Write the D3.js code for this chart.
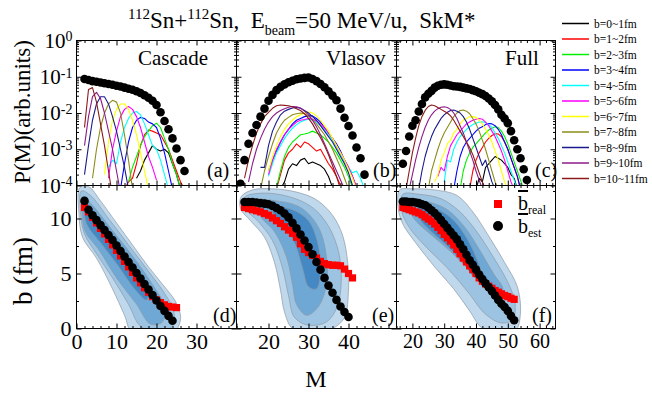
<!DOCTYPE html>
<html><head><meta charset="utf-8">
<script src="https://cdn.jsdelivr.net/npm/d3@7"></script>
<style>
body{margin:0;background:#fff}
svg{display:block}
svg text{font-family:"Liberation Serif","Times New Roman",serif !important;fill:#000}
</style>
</head><body>
<svg id="chart" width="652" height="396"></svg>
<script>
// ---------------- DATA ----------------
const binLabels = ["b=0~1fm","b=1~2fm","b=2~3fm","b=3~4fm","b=4~5fm","b=5~6fm","b=6~7fm","b=7~8fm","b=8~9fm","b=9~10fm","b=10~11fm"];
const modelNames = ["Cascade","Vlasov","Full"];
const topPanelTags = ["(a)","(b)","(c)"];
const botPanelTags = ["(d)","(e)","(f)"];
const xDomainCascade = [0,40];
const xDomainVlasov = [12,52];
const xDomainFull = [15,65];
const xTicksCascade = [0,10,20,30];
const xTicksVlasov = [20,30,40];
const xTicksFull = [20,30,40,50,60];
const pTickExponents = [0,-1,-2,-3,-4];
const bTicks = [0,5,10];

// P(M) curves: log10 P at consecutive integer M starting at startM (index = impact-parameter bin)
const cascadeStartM = [15,12,13,11,8,8,7,4,2,2,2];
const cascadeLogP = [
 [-3.8,-3.6,-3.3,-3.1,-2.9,-3.0,-3.05,-3.0,-3.1,-3.4,-3.7,-4.1],
 [-4.1,-3.9,-3.8,-3.4,-2.9,-2.6,-2.47,-2.5,-2.55,-2.6,-2.8,-3.0,-3.3,-3.6,-3.9,-4.1],
 [-3.9,-3.5,-3.2,-2.9,-2.65,-2.5,-2.35,-2.28,-2.4,-2.7,-3.0,-3.4,-3.7,-4.1],
 [-4.1,-3.4,-2.8,-2.4,-2.2,-2.12,-2.15,-2.25,-2.3,-2.4,-2.7,-3.1,-3.6,-4.1],
 [-3.5,-3.3,-3.4,-2.8,-2.4,-2.15,-2.0,-1.96,-2.05,-2.3,-2.6,-2.9,-3.0,-3.3,-3.7,-4.1],
 [-3.8,-3.0,-2.5,-2.1,-1.9,-1.82,-1.9,-2.1,-2.4,-2.8,-3.2,-3.5,-3.85],
 [-3.7,-2.8,-2.2,-1.9,-1.75,-1.75,-1.9,-2.2,-2.6,-3.1,-3.6,-4.1],
 [-3.8,-3.0,-2.4,-2.0,-1.75,-1.65,-1.7,-2.0,-2.6,-3.3,-4.1],
 [-3.7,-2.9,-2.2,-1.75,-1.55,-1.55,-1.75,-2.1,-2.5,-3.0,-3.5,-4.1],
 [-2.9,-2.1,-1.55,-1.43,-1.6,-2.0,-2.5,-3.0,-3.6,-4.2],
 [-2.4,-1.35,-1.3,-1.7,-2.3,-2.9,-3.6,-4.3]
];
const vlasovStartM = [23,22,22,20,20,20,20,18,18,15,14];
const vlasovLogP = [
 [-4.1,-3.9,-3.55,-3.4,-3.45,-3.3,-3.25,-3.4,-3.35,-3.4,-3.45,-3.55,-3.75,-4.05],
 [-4.1,-3.7,-3.3,-3.1,-3.0,-2.85,-2.95,-2.8,-2.85,-2.95,-3.05,-3.0,-3.2,-3.4,-3.55,-3.75,-4.0],
 [-4.05,-3.6,-3.2,-2.95,-2.8,-2.7,-2.6,-2.58,-2.55,-2.5,-2.55,-2.6,-2.7,-2.8,-2.95,-3.1,-3.3,-3.5,-3.75,-4.05],
 [-3.6,-3.3,-3.05,-2.8,-2.6,-2.45,-2.3,-2.2,-2.15,-2.1,-2.08,-2.08,-2.15,-2.25,-2.4,-2.55,-2.7,-2.85,-3.05,-3.3,-3.5,-3.75,-4.05],
 [-3.75,-3.4,-3.1,-2.9,-2.7,-2.55,-2.42,-2.32,-2.25,-2.2,-2.17,-2.2,-2.25,-2.35,-2.45,-2.6,-2.75,-2.95,-3.15,-3.35,-3.5,-3.65,-3.6,-3.8,-4.1],
 [-3.7,-3.3,-3.0,-2.8,-2.6,-2.45,-2.35,-2.25,-2.2,-2.18,-2.15,-2.17,-2.22,-2.3,-2.42,-2.55,-2.7,-2.9,-3.1,-3.3,-3.5,-3.75,-4.05],
 [-3.6,-3.2,-2.9,-2.65,-2.45,-2.3,-2.2,-2.1,-2.05,-2.0,-1.97,-2.0,-2.08,-2.2,-2.35,-2.5,-2.7,-2.9,-3.1,-3.3,-3.55,-3.8,-4.1],
 [-4.1,-3.6,-3.2,-2.85,-2.55,-2.35,-2.2,-2.12,-2.05,-2.02,-2.0,-2.02,-2.08,-2.18,-2.3,-2.45,-2.6,-2.8,-3.0,-3.25,-3.5,-3.8,-4.1],
 [-3.5,-3.5,-2.9,-2.5,-2.25,-2.05,-1.95,-1.9,-1.86,-1.85,-1.87,-1.93,-2.0,-2.1,-2.2,-2.35,-2.5,-2.65,-2.8,-3.0,-3.2,-3.4,-3.65,-4.0],
 [-3.9,-3.4,-3.0,-2.7,-2.45,-2.25,-2.1,-2.0,-1.93,-1.88,-1.84,-1.82,-1.83,-1.86,-1.95,-2.05,-2.2,-2.38,-2.6,-2.85,-3.1,-3.35,-3.6,-3.85,-4.1],
 [-3.8,-3.3,-2.9,-2.55,-2.3,-2.1,-1.98,-1.87,-1.8,-1.78,-1.79,-1.8,-1.83,-1.88,-1.93,-2.02,-2.15,-2.3,-2.5,-2.68,-2.9,-3.15,-3.45,-3.75,-4.1]
];
const fullStartM = [40,38,35,33,30,28,27,25,22,19,18];
const fullLogP = [
 [-4.1,-3.8,-3.9,-3.5,-3.4,-3.3,-3.2,-3.25,-3.3,-3.4,-3.5,-3.7,-3.8,-4.1],
 [-4.1,-3.6,-3.3,-3.1,-2.95,-2.8,-2.7,-2.62,-2.57,-2.58,-2.65,-2.8,-3.0,-3.25,-3.5,-3.75,-4.1],
 [-4.1,-3.6,-3.3,-3.1,-2.95,-2.85,-2.75,-2.65,-2.55,-2.47,-2.42,-2.38,-2.4,-2.5,-2.65,-2.85,-3.1,-3.35,-3.6,-3.85,-4.1],
 [-4.1,-3.6,-3.2,-2.95,-2.8,-2.7,-2.6,-2.5,-2.42,-2.38,-2.32,-2.29,-2.3,-2.35,-2.45,-2.6,-2.8,-3.0,-3.25,-3.5,-3.75,-4.1],
 [-3.9,-3.3,-3.35,-3.0,-2.8,-2.65,-2.55,-2.45,-2.38,-2.32,-2.28,-2.25,-2.24,-2.27,-2.32,-2.4,-2.55,-2.7,-2.9,-3.1,-3.35,-3.6,-3.85,-4.1],
 [-3.75,-3.5,-3.6,-3.2,-2.9,-2.75,-2.6,-2.5,-2.4,-2.3,-2.25,-2.2,-2.17,-2.15,-2.17,-2.25,-2.35,-2.5,-2.65,-2.85,-3.05,-3.3,-3.6,-3.9,-4.1],
 [-3.9,-3.7,-3.3,-3.1,-2.85,-2.75,-2.55,-2.45,-2.3,-2.2,-2.15,-2.1,-2.1,-2.12,-2.2,-2.3,-2.45,-2.6,-2.8,-3.05,-3.3,-3.6,-3.9,-4.1],
 [-4.1,-3.6,-3.3,-3.0,-2.75,-2.55,-2.4,-2.25,-2.1,-2.0,-1.93,-1.92,-1.95,-2.02,-2.15,-2.3,-2.5,-2.75,-3.0,-3.3,-3.6,-3.9,-4.1],
 [-4.1,-3.6,-3.2,-2.9,-2.65,-2.45,-2.3,-2.15,-2.05,-1.98,-1.93,-1.92,-1.95,-2.0,-2.1,-2.25,-2.45,-2.7,-2.95,-3.2,-3.45,-3.3,-3.6,-3.9,-4.1],
 [-4.1,-3.7,-3.3,-2.95,-2.65,-2.4,-2.2,-2.05,-1.95,-1.88,-1.84,-1.83,-1.85,-1.9,-2.0,-2.15,-2.35,-2.55,-2.8,-3.05,-3.3,-3.6,-3.85,-4.1],
 [-4.1,-3.6,-3.1,-2.7,-2.35,-2.1,-1.93,-1.82,-1.78,-1.8,-1.85,-1.9,-1.95,-2.0,-2.08,-2.2,-2.35,-2.5,-2.65,-2.8,-2.95,-3.15,-3.4,-3.65,-3.9,-4.1]
];
// total P(M) (black dots), log10 P at consecutive integer M
const cascadeTotalStartM = 2;
const cascadeTotalLogP = [-1.06,-1.09,-1.12,-1.14,-1.16,-1.18,-1.2,-1.22,-1.25,-1.27,-1.3,-1.33,-1.36,-1.4,-1.45,-1.51,-1.58,-1.66,-1.78,-1.98,-2.22,-2.45,-2.7,-2.98,-3.3,-3.6];
const vlasovTotalStartM = 13;
const vlasovTotalLogP = [-3.95,-3.3,-2.85,-2.55,-2.33,-2.1,-1.88,-1.66,-1.5,-1.37,-1.28,-1.21,-1.15,-1.11,-1.07,-1.05,-1.03,-1.02,-1.06,-1.12,-1.2,-1.29,-1.4,-1.52,-1.65,-1.88,-2.13,-2.36,-2.62,-2.95,-3.25,-3.7];
const fullTotalStartM = 17;
const fullTotalLogP = [-3.4,-3.05,-2.65,-2.35,-2.2,-1.96,-1.75,-1.57,-1.47,-1.39,-1.3,-1.25,-1.22,-1.21,-1.22,-1.24,-1.26,-1.27,-1.28,-1.3,-1.32,-1.34,-1.37,-1.4,-1.44,-1.48,-1.53,-1.6,-1.68,-1.78,-1.9,-2.05,-2.15,-2.28,-2.5,-2.75,-3.0,-3.25,-3.55,-3.85];

// b_est (black) and b_real (red) vs M
const cascadeEstStartM = 2;
const cascadeBEst = [11.6,10.8,10.3,9.85,9.4,8.95,8.5,8.05,7.55,7.05,6.55,6.05,5.55,5.05,4.55,4.05,3.55,3.05,2.55,2.05,1.6,1.15,0.7];
const cascadeRealStartM = 2;
const cascadeBReal = [11.0,10.6,10.1,9.6,9.1,8.6,8.1,7.6,7.1,6.6,6.1,5.6,5.1,4.6,4.15,3.7,3.3,2.9,2.6,2.35,2.15,2.0,1.95,1.9];
const vlasovEstStartM = 14;
const vlasovBEst = [11.5,11.5,11.5,11.45,11.4,11.35,11.3,11.15,10.95,10.75,10.45,10.1,9.6,9.1,8.55,8.0,7.4,6.75,6.05,5.35,4.6,3.9,3.25,2.6,2.0,1.5,1.05];
const vlasovRealStartM = 14;
const vlasovBReal = [11.0,10.9,10.8,10.7,10.6,10.45,10.3,10.05,9.8,9.55,9.25,8.95,8.65,8.3,7.7,7.2,6.9,6.65,6.4,6.1,5.9,5.8,5.75,5.75,5.7,5.4,5.0,4.6];
const fullEstStartM = 17;
const fullBEst = [11.55,11.55,11.5,11.5,11.45,11.4,11.3,11.2,11.0,10.75,10.5,10.2,9.85,9.5,9.15,8.8,8.45,8.1,7.65,7.2,6.7,6.2,5.8,5.35,4.9,4.5,4.1,3.75,3.4,3.0,2.6,2.25,1.95,1.6,1.15,0.75];
const fullRealStartM = 17;
const fullBReal = [11.0,10.9,10.8,10.7,10.6,10.5,10.35,10.15,9.95,9.75,9.5,9.2,8.9,8.55,8.25,7.95,7.6,7.2,6.8,6.4,6.05,5.7,5.35,5.0,4.6,4.3,4.05,3.85,3.65,3.45,3.3,3.15,3.0,2.9,2.75,2.65];

// density contour outlines in (M, b), outer to inner
const cascadeContours = [
 [[0.8,12.8],[3,12.9],[6,11.6],[10,9.6],[14,7.6],[18,5.6],[22,3.8],[25,2.3],[26,0.8],[24,-0.5],[19,-0.6],[14,-0.5],[12,1.2],[9,3.6],[5,6.4],[1.5,8.3],[0.6,10.5]],
 [[1.2,12.5],[3.5,12.1],[8,10],[13,7.6],[18,5.2],[22,3.2],[24.3,1.6],[24,0.2],[20,-0.3],[16,0.2],[13,2.2],[9,4.6],[5,6.8],[2,8.6],[1,10.5]],
 [[1.6,12.0],[4,11.2],[9,8.9],[14,6.6],[19,4.0],[22,2.0],[21.5,0.6],[18.5,0.4],[15,2.2],[10,4.6],[5.5,7.2],[2.2,8.8],[1.4,10.4]],
 [[2.2,11.3],[5,10.2],[10,8.0],[15,5.6],[18,3.5],[17.5,2.6],[14.5,3.6],[10,5.9],[6,7.8],[2.8,9.3],[2,10.3]]
];
const vlasovContours = [
 [[13.2,12.0],[16,12.6],[21,12.7],[27,12.4],[32,11.7],[36,10.3],[38.5,8.5],[39.8,6],[40,3.5],[39,1.0],[36,0],[31,-0.3],[26,0],[24,1.5],[23,3.5],[21.5,6],[19,8.3],[15.5,9.8],[13,10.9]],
 [[14,11.9],[18,12.3],[25,12.0],[31,11.0],[35,9.3],[37.5,7],[38.2,4.5],[37.2,2],[34.5,0.6],[30,0.3],[26.5,1.0],[25,3.0],[23.5,5.5],[21,8],[17.5,9.7],[14.5,10.8]],
 [[17,11.6],[22,11.6],[28,11.0],[32.5,9.2],[34.5,6.5],[34.5,4.0],[32.5,2.0],[29.5,1.2],[27,2.2],[26,4],[24.5,6.5],[21.5,8.8],[18,10.2]],
 [[21.5,11.0],[26,10.8],[30,9.8],[32.3,7.8],[33,5.2],[32,3.6],[30,3.8],[28.5,5.5],[26.5,7.8],[23.5,9.5],[21.2,10.3]]
];
const fullContours = [
 [[16,12.6],[20,12.7],[27,12.6],[34,12.1],[39,10.6],[44,8.4],[49,6.0],[53,3.8],[54,1.5],[52.5,-0.2],[48,-0.5],[42,0],[38,1.6],[33,3.6],[27,5.6],[21,7.8],[17,9.5],[15.5,11]],
 [[17,12.2],[22,12.2],[29,11.8],[35,10.6],[40,8.9],[45,6.7],[50,4.2],[52.3,2.3],[51.5,0.8],[48,0.5],[43,1.3],[37.5,3.3],[31,5.5],[24,7.5],[19,9.2],[16.5,10.8]],
 [[19.5,11.6],[25,11.5],[31,10.8],[36.5,9.2],[41,7.2],[45.5,5.0],[48.5,3.6],[47.5,3.0],[43,3.9],[38,5.3],[32,7.0],[26,8.5],[21,9.8],[19,10.8]],
 [[22,11.0],[27,10.9],[32,10.1],[36.5,8.5],[40,6.5],[41.5,5.0],[40,4.6],[36,5.9],[31,7.5],[26,8.8],[22.5,9.9]]
];

// ---------------- STYLE / LAYOUT ----------------
const SERIF = '"Liberation Serif","Times New Roman",serif';
const binColors = ["#000000","#ff0000","#00ee00","#0000ff","#00ffff","#ff00ff","#ffff00","#8c8c1a","#1a1a8c","#8c1a8c","#8c1a1a"];
const contourFills = ["#bfd8ec","#9cc4e2","#6fa8d4","#4489c4"];
const panelLeft = [76.5,236.5,396.5];
const panelRight = [236.5,396.5,555.5];
const topRowY = [40.5,185.5];
const botRowY = [185.5,328.5];

const svg = d3.select("#chart");
svg.append("rect").attr("width",652).attr("height",396).attr("fill","#fff");

const models = [
 {xd:xDomainCascade, ticks:xTicksCascade, startM:cascadeStartM, logP:cascadeLogP, totS:cascadeTotalStartM, tot:cascadeTotalLogP,
  estS:cascadeEstStartM, est:cascadeBEst, realS:cascadeRealStartM, real:cascadeBReal, cont:cascadeContours, fs:22},
 {xd:xDomainVlasov, ticks:xTicksVlasov, startM:vlasovStartM, logP:vlasovLogP, totS:vlasovTotalStartM, tot:vlasovTotalLogP,
  estS:vlasovEstStartM, est:vlasovBEst, realS:vlasovRealStartM, real:vlasovBReal, cont:vlasovContours, fs:22},
 {xd:xDomainFull, ticks:xTicksFull, startM:fullStartM, logP:fullLogP, totS:fullTotalStartM, tot:fullTotalLogP,
  estS:fullEstStartM, est:fullBEst, realS:fullRealStartM, real:fullBReal, cont:fullContours, fs:20}
];

const yP = d3.scaleLog().domain([1e-4,1]).range([topRowY[1],topRowY[0]]);
const yB = d3.scaleLinear().domain([0,13]).range([botRowY[1],botRowY[0]]);
const defs = svg.append("defs");

function edgeTicks(g, scale, values, orient, pos, len){
  const axis = (orient==="bottom"?d3.axisBottom:orient==="top"?d3.axisTop:orient==="left"?d3.axisLeft:d3.axisRight)(scale)
    .tickValues(values).tickSize(-len).tickFormat("");
  const tr = (orient==="bottom"||orient==="top")?`translate(0,${pos})`:`translate(${pos},0)`;
  const a = g.append("g").attr("transform",tr).call(axis);
  a.select(".domain").remove();
  a.selectAll("line").attr("stroke","#000").attr("stroke-width",1);
}

models.forEach((m,i)=>{
  const x = d3.scaleLinear().domain(m.xd).range([panelLeft[i],panelRight[i]]);
  const g = svg.append("g");
  defs.append("clipPath").attr("id","ct"+i).append("rect")
    .attr("x",panelLeft[i]).attr("y",topRowY[0]).attr("width",panelRight[i]-panelLeft[i]).attr("height",topRowY[1]-topRowY[0]);
  defs.append("clipPath").attr("id","cb"+i).append("rect")
    .attr("x",panelLeft[i]).attr("y",botRowY[0]).attr("width",panelRight[i]-panelLeft[i]).attr("height",botRowY[1]-botRowY[0]);

  // ---- top: P(M) curves
  const gt = g.append("g").attr("clip-path",`url(#ct${i})`);
  const line = d3.line().x(d=>x(d[0])).y(d=>yP(Math.pow(10,d[1])));
  m.logP.forEach((vals,b)=>{
    const pts = vals.map((v,k)=>[m.startM[b]+k, v]);
    gt.append("path").attr("d",line(pts)).attr("fill","none")
      .attr("stroke",binColors[b]).attr("stroke-width",1.1).attr("stroke-linejoin","round");
  });
  gt.selectAll("circle.tot").data(m.tot.map((v,k)=>[m.totS+k,v])).enter().append("circle")
    .attr("cx",d=>x(d[0])).attr("cy",d=>yP(Math.pow(10,d[1]))).attr("r",4.3).attr("fill","#000");

  // ---- bottom: contours + b estimates
  const gb = g.append("g").attr("clip-path",`url(#cb${i})`);
  const cl = d3.line().x(d=>x(d[0])).y(d=>yB(d[1])).curve(d3.curveCatmullRomClosed.alpha(0.5));
  m.cont.forEach((poly,k)=>{
    gb.append("path").attr("d",cl(poly)).attr("fill",contourFills[k])
      .attr("stroke","#8e9aa6").attr("stroke-width",0.7);
  });
  gb.selectAll("rect.real").data(m.real.map((v,k)=>[m.realS+k,v])).enter().append("rect")
    .attr("x",d=>x(d[0])-3.6).attr("y",d=>yB(d[1])-3.6).attr("width",7.2).attr("height",7.2).attr("fill","#ff0000");
  gb.selectAll("circle.est").data(m.est.map((v,k)=>[m.estS+k,v])).enter().append("circle")
    .attr("cx",d=>x(d[0])).attr("cy",d=>yB(d[1])).attr("r",4.3).attr("fill","#000");

  // ---- frames
  [topRowY,botRowY].forEach(yy=>{
    g.append("rect").attr("x",panelLeft[i]).attr("y",yy[0]).attr("width",panelRight[i]-panelLeft[i]).attr("height",yy[1]-yy[0])
      .attr("fill","none").attr("stroke","#000").attr("stroke-width",1);
  });

  // ---- x ticks (major & minor)
  const majors = d3.range(Math.ceil(m.xd[0]/10)*10, m.xd[1]+0.01, 10);
  const minors = d3.range(Math.ceil(m.xd[0]/2)*2, m.xd[1]+0.01, 2).filter(v=>v%10!==0);
  [topRowY[0],topRowY[1],botRowY[1]].forEach((yy,k)=>{
    const up = (k!==0);
    edgeTicks(g,x,majors,up?"bottom":"top",yy,5);
    edgeTicks(g,x,minors,up?"bottom":"top",yy,2.5);
  });
  edgeTicks(g,x,majors,"top",botRowY[0],5);
  edgeTicks(g,x,minors,"top",botRowY[0],2.5);

  // ---- y ticks left & right edges
  const pMaj = pTickExponents.map(e=>Math.pow(10,e));
  const pMin = [];
  for(let e=-4;e<0;e++) for(let k=2;k<10;k++) pMin.push(k*Math.pow(10,e));
  edgeTicks(g,yP,pMaj,"left",panelLeft[i],5);
  edgeTicks(g,yP,pMin,"left",panelLeft[i],2.5);
  edgeTicks(g,yP,pMaj,"right",panelRight[i],5);
  edgeTicks(g,yP,pMin,"right",panelRight[i],2.5);
  edgeTicks(g,yB,bTicks,"left",panelLeft[i],5);
  edgeTicks(g,yB,[2.5,7.5,12.5],"left",panelLeft[i],2.5);
  edgeTicks(g,yB,bTicks,"right",panelRight[i],5);
  edgeTicks(g,yB,[2.5,7.5,12.5],"right",panelRight[i],2.5);

  // ---- x tick labels
  const xl = g.append("g").attr("transform",`translate(0,${botRowY[1]})`)
    .call(d3.axisBottom(x).tickValues(m.ticks).tickSize(0).tickPadding(5).tickFormat(d3.format("d")));
  xl.attr("font-family",null).attr("font-size",null);
  xl.select(".domain").remove();
  xl.selectAll("text").style("font-family",SERIF).attr("font-size",m.fs).attr("fill","#000").attr("dy","0.72em");

  // ---- panel texts
  g.append("text").attr("x",[138,326,505][i]).attr("y",65).attr("font-size",21).text(modelNames[i]);
  g.append("text").attr("x",[207,373,535][i]).attr("y",177).attr("font-size",20).text(topPanelTags[i]);
  g.append("text").attr("x",[213,372,532][i]).attr("y",322).attr("font-size",20).text(botPanelTags[i]);
});

// y tick labels (left)
const yl = svg.append("g").attr("transform",`translate(${panelLeft[0]},0)`)
  .call(d3.axisLeft(yP).tickValues(pTickExponents.map(e=>Math.pow(10,e))).tickSize(0).tickPadding(4).tickFormat(()=>"10"));
yl.attr("font-family",null).attr("font-size",null);
yl.select(".domain").remove();
yl.selectAll("text").style("font-family",SERIF).attr("font-size",21).attr("fill","#000")
  .each(function(d){ d3.select(this).append("tspan").attr("dy","-0.45em").attr("font-size",14).text(Math.round(Math.log10(d))); });
const ybl = svg.append("g").attr("transform",`translate(${panelLeft[0]},0)`)
  .call(d3.axisLeft(yB).tickValues(bTicks).tickSize(0).tickPadding(5).tickFormat(d3.format("d")));
ybl.attr("font-family",null).attr("font-size",null);
ybl.select(".domain").remove();
ybl.selectAll("text").style("font-family",SERIF).attr("font-size",22).attr("fill","#000");

// axis titles
svg.append("text").attr("transform","translate(22,112) rotate(-90)").attr("text-anchor","middle").attr("dy","0.35em")
  .attr("font-size",23).text("P(M)(arb.units)");
svg.append("text").attr("transform","translate(23,271) rotate(-90)").attr("text-anchor","middle").attr("dy","0.35em")
  .attr("font-size",27).text("b (fm)");
svg.append("text").attr("x",316).attr("y",387).attr("text-anchor","middle").attr("font-size",24).text("M");

// title
const title = svg.append("text").attr("x",128).attr("y",28).attr("font-size",23).style("white-space","pre");
title.append("tspan").attr("font-size",15).attr("dy",-9).text("112");
title.append("tspan").attr("dy",9).text("Sn+");
title.append("tspan").attr("font-size",15).attr("dy",-9).text("112");
title.append("tspan").attr("dy",9).text("Sn,  E");
title.append("tspan").attr("font-size",14).attr("dy",7).text("beam");
title.append("tspan").attr("dy",-7).text("=50 MeV/u,  SkM*");

// legend of b bins
const lg = svg.append("g");
binLabels.forEach((lab,k)=>{
  const yy = 23.5 + k*15.5;
  lg.append("line").attr("x1",562).attr("x2",589).attr("y1",yy).attr("y2",yy).attr("stroke",binColors[k]).attr("stroke-width",1.5);
  lg.append("text").attr("x",594).attr("y",yy+4).attr("font-size",11.5).text(lab);
});

// legend in panel (f)
svg.append("rect").attr("x",494).attr("y",200).attr("width",8).attr("height",8).attr("fill","#ff0000");
svg.append("circle").attr("cx",498).attr("cy",226).attr("r",5).attr("fill","#000");
const t1 = svg.append("text").attr("x",518).attr("y",210).attr("font-size",20);
t1.append("tspan").attr("text-decoration","overline").text("b");
t1.append("tspan").attr("font-size",12).attr("dy",4).text("real");
const t2 = svg.append("text").attr("x",518).attr("y",233).attr("font-size",20);
t2.append("tspan").attr("text-decoration","overline").text("b");
t2.append("tspan").attr("font-size",12).attr("dy",4).text("est");
</script>
</body></html>
